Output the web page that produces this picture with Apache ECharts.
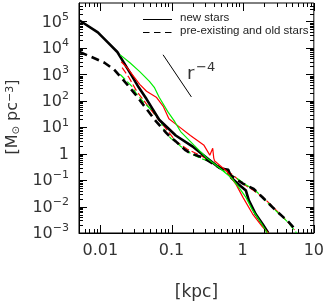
<!DOCTYPE html>
<html><head><meta charset="utf-8">
<script src="https://cdn.jsdelivr.net/npm/echarts@6/dist/echarts.min.js"></script>
<style>html,body{margin:0;padding:0;background:#fff}#c{width:327px;height:306px}</style>
</head><body><div id="c"></div>
<script>
// axis ranges and ticks
const xMin = 0.005, xMax = 10, yMin = 0.001, yMax = 5e5;
const xTickValues = [0.01, 0.1, 1, 10];
const xTickLabels = ['0.01', '0.1', '1', '10'];
const yTickExponents = [-3, -2, -1, 0, 1, 2, 3, 4, 5];
const legendNames = ['new stars', 'pre-existing and old stars'];

// series: [r (kpc), density (Msun pc^-3)]
const blackNew = [[0.0051,1.09e5],[0.0092,3.9e4],[0.0126,1.66e4],[0.0173,7.0e3],[0.0202,3.55e3],[0.026,1.17e3],[0.0345,323],[0.0445,116],[0.067,19.2],[0.1146,4.87],[0.196,1.90],[0.314,0.68],[0.473,0.289],[0.57,0.26],[0.629,0.244],[0.692,0.123],[0.889,0.0674],[1.11,0.0403],[1.22,0.0171],[1.52,0.0052],[1.90,0.0022],[2.29,0.001]];
const blackOld = [[0.0051,7.0e3],[0.0074,4.6e3],[0.0114,2.75e3],[0.0156,1.51e3],[0.0237,418],[0.0324,150],[0.0445,49],[0.061,16.2],[0.0835,6.3],[0.0977,4.1],[0.1146,2.92],[0.157,1.35],[0.184,1.04],[0.286,0.68],[0.431,0.343],[0.537,0.244],[0.692,0.146],[1.01,0.0734],[1.43,0.046],[1.88,0.023],[2.86,0.0075],[4.31,0.0028],[5.72,0.0012]];
const greenNew = [[0.019,5450],[0.026,2750],[0.0357,1270],[0.0489,540],[0.0572,323],[0.067,137],[0.0889,38],[0.111,16.2],[0.134,6.86],[0.208,2.07],[0.314,0.68],[0.473,0.289],[0.692,0.123],[0.889,0.0521],[1.11,0.0222],[1.38,0.0073],[1.78,0.0026],[2.22,0.001]];
const redNew = [[0.0196,2990],[0.0237,1790],[0.0295,828],[0.0357,418],[0.0445,230],[0.061,137],[0.076,63.5],[0.0918,20.9],[0.122,11.5],[0.184,4.87],[0.286,2.07],[0.345,0.88],[0.365,0.95],[0.379,1.60],[0.392,0.68],[0.404,0.526],[0.59,0.224],[0.81,0.0674],[1.01,0.0222],[1.38,0.0052],[1.90,0.0017],[2.29,0.001]];
const greenOld = [[0.019,984],[0.0237,540],[0.0277,352],[0.0324,177],[0.0404,89.5],[0.0554,38],[0.0713,16.2],[0.076,8.87],[0.0977,3.77],[0.1146,2.92],[0.134,1.90],[0.184,1.04],[0.252,0.68],[0.392,0.443],[0.537,0.224],[0.81,0.123],[1.11,0.0674],[1.52,0.0403],[2.08,0.0171],[2.86,0.0073],[4.31,0.0026],[5.72,0.001]];
const redOld = [[0.0202,1790],[0.0252,760],[0.0324,230],[0.0445,75],[0.061,24.8],[0.0835,8.87],[0.1146,2.92],[0.167,1.47],[0.268,0.807],[0.431,0.373],[0.692,0.173],[1.01,0.0734],[1.43,0.0403],[2.08,0.0187],[3.05,0.0067],[4.59,0.0022],[5.37,0.0013]];
const slopeRef = [[0.076,5500],[0.19,140]];

// tick positions: majors at 10^n, minors at 2..9 x 10^n
const minorMult = [2,3,4,5,6,7,8,9];
const xMajor = xTickValues.slice();
const yMajor = yTickExponents.map(n => Math.pow(10, n));
const xMinor = [], yMinor = [];
for (let d = -3; d <= 1; d++) minorMult.forEach(m => { const v = m * Math.pow(10, d); if (v > xMin*1.001 && v < xMax*0.999) xMinor.push(v); });
for (let d = -3; d <= 5; d++) minorMult.forEach(m => { const v = m * Math.pow(10, d); if (v > yMin*1.001 && v < yMax*0.999) yMinor.push(v); });

const FONT = 'DejaVu Sans';
const TXT = '#333';

function isPow(v){ const l = Math.log10(v); return Math.abs(l - Math.round(l)) < 1e-6 ? Math.round(l) : null; }

const xAxis = {type:'log', logBase:10, min:xMin, max:xMax,
  splitLine:{show:false}, minorTick:{show:false}, minorSplitLine:{show:false},
  axisLine:{show:true, onZero:false, lineStyle:{color:'#000', width:1}},
  axisTick:{show:false},
  axisLabel:{show:true, margin:10, fontSize:16, fontFamily:FONT, color:TXT,
    formatter: v => { const n = isPow(v); if (n === null) return ''; const i = xTickValues.findIndex(t => Math.abs(Math.log10(t) - n) < 1e-6); return i < 0 ? '' : xTickLabels[i]; }},
  name:'[kpc]', nameLocation:'middle', nameGap:51,
  nameTextStyle:{fontSize:17, fontFamily:FONT, color:TXT}
};
const yAxis = {type:'log', logBase:10, min:yMin, max:yMax,
  splitLine:{show:false}, minorTick:{show:false}, minorSplitLine:{show:false},
  axisLine:{show:true, onZero:false, lineStyle:{color:'#000', width:1}},
  axisTick:{show:false},
  axisLabel:{show:true, margin:10, fontFamily:FONT, color:TXT,
    formatter: v => { const n = isPow(v); if (n === null || yTickExponents.indexOf(n) < 0) return '';
      if (n === 0) return '{b|1}';
      return '{b|10}{e|' + (n < 0 ? '\u2212' + (-n) : n) + '}'; },
    rich:{ b:{fontSize:16, fontFamily:FONT, color:TXT, verticalAlign:'bottom', lineHeight:18},
           e:{fontSize:11, fontFamily:FONT, color:TXT, verticalAlign:'bottom', lineHeight:11, padding:[0,0,8,0]} }
  }
};

function lineS(name, data, color, width, type, z){
  return {name:name, type:'line', data:data, symbol:'none', showSymbol:false, silent:true, z:z,
    lineStyle:{color:color, width:width, type:type}, itemStyle:{color:color}, clip:true};
}

const GREEN = '#00ee00', RED = '#ff0000';
const TS = (o) => Object.assign({fontFamily:FONT, fill:TXT}, o);
const LEG_FONT = 'Liberation Sans';

const baseGraphic = [
  // y axis title
  {type:'text', x:5, y:117, rotation:Math.PI/2,
    style:TS({text:'[M{sub|\u2299} pc{sup|\u22123}]', fontSize:16,
      align:'center', textAlign:'center', verticalAlign:'top', textVerticalAlign:'top',
      rich:{ sub:{fontSize:10, fontFamily:FONT, fill:TXT, verticalAlign:'bottom', lineHeight:10, padding:[10,0,0,0]},
             sup:{fontSize:11, fontFamily:FONT, fill:TXT, verticalAlign:'top', lineHeight:11} }})},
  // r^-4 annotation
  {type:'text', x:187, y:65, style:TS({text:'r', fontSize:18, align:'left', verticalAlign:'top'})},
  {type:'text', x:196, y:61, style:TS({text:'\u22124', fontSize:13, align:'left', verticalAlign:'top'})},
  // legend
  {type:'line', shape:{x1:143, y1:19.5, x2:172, y2:19.5}, style:{stroke:'#000', lineWidth:1}},
  {type:'text', x:180, y:12, style:{text:legendNames[0], fontSize:11.5, fontFamily:LEG_FONT, fill:'#222', align:'left', verticalAlign:'top'}},
  {type:'line', shape:{x1:143, y1:32.5, x2:172, y2:32.5}, style:{stroke:'#000', lineWidth:1, lineDash:[6.5,4.5]}},
  {type:'text', x:180, y:25, style:{text:legendNames[1], fontSize:11.5, fontFamily:LEG_FONT, fill:'#222', align:'left', verticalAlign:'top'}}
];

const option = {
  animation:false,
  backgroundColor:'#fff',
  grid:{left:79, right:10, top:3, bottom:69, containLabel:false, show:true, borderColor:'#000', borderWidth:1, backgroundColor:'rgba(0,0,0,0)'},
  xAxis:xAxis,
  yAxis:yAxis,
  graphic:baseGraphic,
  series:[
    lineS('redOld', redOld, RED, 1.2, [7,3], 2),
    lineS('greenOld', greenOld, GREEN, 1.2, [7,3], 2),
    lineS(legendNames[1], blackOld, '#000', 2.6, [8,5], 3),
    lineS(legendNames[0], blackNew, '#000', 2.6, 'solid', 3),
    lineS('redNew', redNew, RED, 1.2, 'solid', 4),
    lineS('greenNew', greenNew, GREEN, 1.2, 'solid', 4),
    lineS('slope', slopeRef, '#000', 1, 'solid', 4)
  ]
};
const chart = echarts.init(document.getElementById('c'));
chart.setOption(option);

// inward ticks on all four sides, placed through the chart's own log scales
const tickEls = [];
function px(v){ return chart.convertToPixel({gridIndex:0}, v); }
function tick(x, y, w, h){ tickEls.push({type:'rect', silent:true, z:50, shape:{x:x, y:y, width:w, height:h}, style:{fill:'#000'}}); }
function xTicks(vals, L){
  vals.forEach(v => {
    const a = px([v, yMin]), b = px([v, yMax]);
    const x = Math.round(a[0]) ;
    tick(x, Math.round(a[1]) - L, 1, L);
    tick(x, Math.round(b[1]), 1, L);
  });
}
function yTicks(vals, L){
  vals.forEach(v => {
    const a = px([xMin, v]), b = px([xMax, v]);
    const y = Math.round(a[1]);
    tick(Math.round(a[0]), y, L, 1);
    tick(Math.round(b[0]) - L, y, L, 1);
  });
}
xTicks(xMajor, 8); xTicks(xMinor, 4);
yTicks(yMajor, 8); yTicks(yMinor, 4);
chart.setOption({graphic: baseGraphic.concat(tickEls)});
</script>
</body></html>
